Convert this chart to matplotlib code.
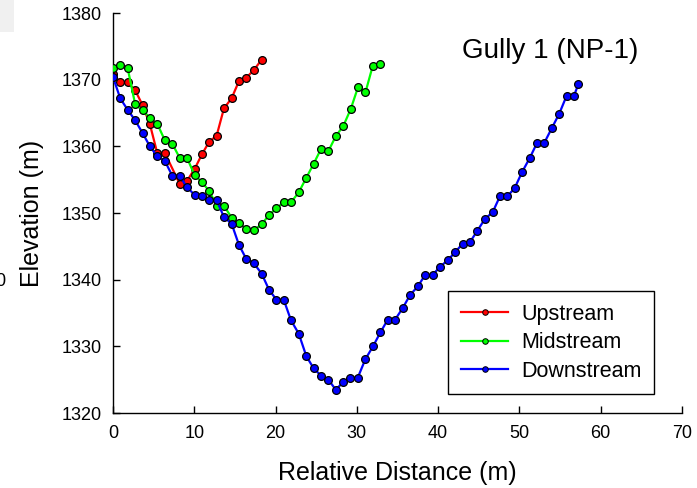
import matplotlib
matplotlib.use("Agg")
import matplotlib.pyplot as plt
from matplotlib.patches import Rectangle

plt.rcParams['font.family'] = ['Liberation Sans', 'DejaVu Sans']

# Upstream (red)
up_x = [0.0, 0.88, 1.79, 2.73, 3.63, 4.54, 5.44, 6.38, 8.19, 9.09, 10.04, 10.94,
        11.84, 12.75, 13.65, 14.59, 15.5, 16.4, 17.3, 18.29]
up_y = [1370.9, 1369.6, 1369.6, 1368.4, 1366.2, 1363.3, 1359.0, 1359.0, 1354.4, 1354.8,
        1356.6, 1358.8, 1360.7, 1361.6, 1365.7, 1367.2, 1369.8, 1370.3, 1371.4, 1373.0]

# Midstream (green)
mid_x = [0.0, 0.89, 1.79, 2.73, 3.63, 4.53, 5.44, 6.38, 7.29, 8.19, 9.09, 10.04,
         10.94, 11.85, 12.75, 13.65, 14.59, 15.49, 16.4, 17.3, 18.29, 19.19, 20.1,
         21.0, 21.9, 22.85, 23.79, 24.69, 25.59, 26.5, 27.4, 28.35, 29.25, 30.15,
         31.06, 31.96, 32.86]
mid_y = [1371.7, 1372.2, 1371.8, 1366.3, 1365.4, 1364.3, 1363.4, 1360.9, 1360.4,
         1358.3, 1358.3, 1355.7, 1354.6, 1353.3, 1351.1, 1351.1, 1349.3, 1348.5,
         1347.6, 1347.4, 1348.3, 1349.7, 1350.7, 1351.6, 1351.6, 1353.1, 1355.3,
         1357.4, 1359.6, 1359.3, 1361.5, 1363.1, 1365.6, 1368.9, 1368.1, 1372.1,
         1372.4]

# Downstream (blue)
down_x = [0.0, 0.89, 1.79, 2.73, 3.63, 4.54, 5.44, 6.38, 7.29, 8.19, 9.09, 10.04,
          10.94, 11.85, 12.75, 13.65, 14.59, 15.5, 16.4, 17.3, 18.29, 19.19, 20.1,
          21.0, 21.9, 22.85, 23.79, 24.69, 25.59, 26.5, 27.4, 28.3, 29.21, 30.11,
          31.06, 31.99, 32.9, 33.8, 34.7, 35.62, 36.55, 37.5, 38.4, 39.31, 40.21,
          41.16, 42.09, 43.0, 43.9, 44.8, 45.75, 46.7, 47.6, 48.5, 49.4, 50.31,
          51.29, 52.16, 53.05, 53.97, 54.9, 55.81, 56.71, 57.25]
down_y = [1370.4, 1367.2, 1365.5, 1363.9, 1362.0, 1360.0, 1358.5, 1357.8, 1355.6,
          1355.6, 1353.9, 1352.7, 1352.6, 1351.9, 1351.9, 1349.4, 1348.4, 1345.2,
          1343.1, 1342.5, 1340.9, 1338.5, 1337.0, 1337.0, 1333.9, 1331.9, 1328.5,
          1326.7, 1325.6, 1325.0, 1323.5, 1324.6, 1325.3, 1325.3, 1328.1, 1330.0,
          1332.1, 1334.0, 1334.0, 1335.7, 1337.7, 1339.0, 1340.7, 1340.7, 1341.9,
          1342.9, 1344.1, 1345.4, 1345.6, 1347.3, 1349.1, 1350.1, 1352.5, 1352.5,
          1353.7, 1356.1, 1358.3, 1360.5, 1360.5, 1362.7, 1364.9, 1367.6, 1367.6,
          1369.3]

series = [("Upstream", up_x, up_y, "#ff0000"),
          ("Midstream", mid_x, mid_y, "#00ff00"),
          ("Downstream", down_x, down_y, "#0000ff")]

x_ticks = [0, 10, 20, 30, 40, 50, 60, 70]
y_ticks = [1320, 1330, 1340, 1350, 1360, 1370, 1380]

fig = plt.figure(figsize=(6.97, 4.88), dpi=100)
ax = fig.add_axes([113 / 697, 1 - 413 / 488, 569 / 697, 400 / 488])

# light grey artifact in the top-left corner of the original image
fig.patches.append(Rectangle((0, 1 - 32 / 488), 14 / 697, 32 / 488,
                             transform=fig.transFigure, facecolor="#f0f0f0",
                             edgecolor="none", zorder=0))

handles = []
for name, xs, ys, col in series:
    ax.plot(xs, ys, color=col, lw=1.6, marker="o", markersize=5.6,
            markerfacecolor=col, markeredgecolor="black", markeredgewidth=0.9,
            zorder=3)
    h, = ax.plot([], [], color=col, lw=1.6, marker="o", markersize=4,
                 markerfacecolor=col, markeredgecolor="black",
                 markeredgewidth=0.7, label=name)
    handles.append(h)

ax.set_xlim(0, 70)
ax.set_ylim(1320, 1380)
ax.set_xticks(x_ticks)
ax.set_yticks(y_ticks)
ax.spines['top'].set_visible(False)
ax.spines['right'].set_visible(False)
for s in ('left', 'bottom'):
    ax.spines[s].set_linewidth(1.0)
ax.tick_params(direction='in', length=5, width=1.0, labelsize=13)
ax.tick_params(axis='x', pad=9)
ax.tick_params(axis='y', pad=8)

ax.set_xlabel("Relative Distance (m)", fontsize=18, va='top')
ax.set_ylabel("Elevation (m)", fontsize=18)
ax.xaxis.set_label_coords(0.5, (413 - 461) / 400)
ax.yaxis.set_label_coords((44 - 113) / 569, 0.5)

ax.text((462 - 113) / 569, (413 - 58) / 400, "Gully 1 (NP-1)", fontsize=20,
        ha='left', va='baseline', transform=ax.transAxes)

leg = ax.legend(handles=handles, loc='upper left',
                bbox_to_anchor=((448 - 113) / 569, (413 - 291) / 400),
                borderaxespad=0, fontsize=15.5, fancybox=False, framealpha=1,
                edgecolor='black', handlelength=2.2, handletextpad=0.6,
                labelspacing=0.34, borderpad=0.6)
leg.get_frame().set_linewidth(1.0)

fig.text(5 / 697, 1 - 281 / 488, "0", fontsize=13, ha='right', va='center')

fig.savefig("out.png", dpi=100)
